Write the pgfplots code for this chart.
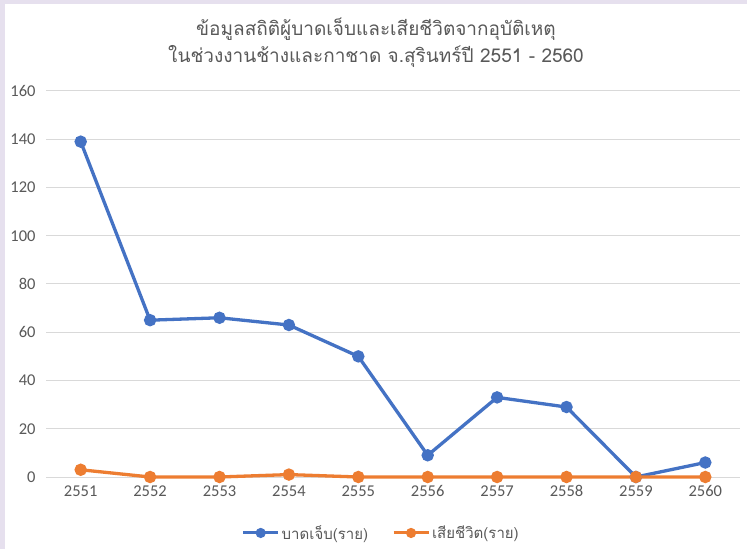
\documentclass[border=0pt]{standalone}
\usepackage{pgfplots}
\pgfplotsset{compat=1.18}
\usepackage{fontspec}
\setmainfont{Carlito}
\newfontfamily\thaifont[Script=Thai]{Loma}
\definecolor{cblue}{HTML}{4472C4}
\definecolor{corange}{HTML}{ED7D31}
\definecolor{ctext}{HTML}{595959}
\definecolor{cgrid}{HTML}{D9D9D9}
\definecolor{cframe}{HTML}{E6E0EE}
\begin{document}
\begin{tikzpicture}
\path[use as bounding box] (0,0) rectangle (747bp,549bp);
\fill[cframe] (0,0) rectangle (747bp,549bp);
\fill[white] (5bp,0) rectangle (747bp,545bp);
\node[align=center, text=ctext, font=\thaifont\fontsize{19bp}{27bp}\selectfont] at (376bp,506bp) {ข้อมูลสถิติผู้บาดเจ็บและเสียชีวิตจากอุบัติเหตุ\\ในช่วงงานช้างและกาชาด จ.สุรินทร์ปี 2551 - 2560};
\begin{axis}[
  at={(46bp,72bp)}, anchor=south west, scale only axis,
  width=694bp, height=386bp,
  xmin=-0.5, xmax=9.5, ymin=0, ymax=160,
  ytick={0,20,...,160},
  xtick={0,...,9},
  xticklabels={2551,2552,2553,2554,2555,2556,2557,2558,2559,2560},
  ymajorgrids, grid style={cgrid, line width=1bp},
  axis line style={draw=none},
  major tick length=0pt,
  clip=false,
  tick label style={font=\fontsize{16.5bp}{19bp}\selectfont, text=ctext},
  /pgf/number format/assume math mode=true,
  yticklabel style={xshift=-7bp},
  xticklabel style={yshift=-5bp},
  legend style={at={(0.483,-0.145)}, anchor=center, draw=none, fill=none,
    legend columns=2, font=\thaifont\fontsize{15bp}{18bp}\selectfont, text=ctext,
    /tikz/every even column/.append style={column sep=22bp}},
  legend image code/.code={\draw[mark repeat=2,mark phase=2,#1,line width=3bp,mark size=3.5bp] plot coordinates {(0bp,0bp) (17.5bp,0bp) (35bp,0bp)};},
]
\addplot[cblue, line width=3.3bp, mark=*, mark size=4.5bp, mark options={solid, fill=cblue}]
  coordinates {(0,139) (1,65) (2,66) (3,63) (4,50) (5,9) (6,33) (7,29) (8,0) (9,6)};
\addlegendentry{บาดเจ็บ(ราย)}
\addplot[corange, line width=3.3bp, mark=*, mark size=4.5bp, mark options={solid, fill=corange}]
  coordinates {(0,3) (1,0) (2,0) (3,1) (4,0) (5,0) (6,0) (7,0) (8,0) (9,0)};
\addlegendentry{เสียชีวิต(ราย)}
\end{axis}
\end{tikzpicture}
\end{document}
